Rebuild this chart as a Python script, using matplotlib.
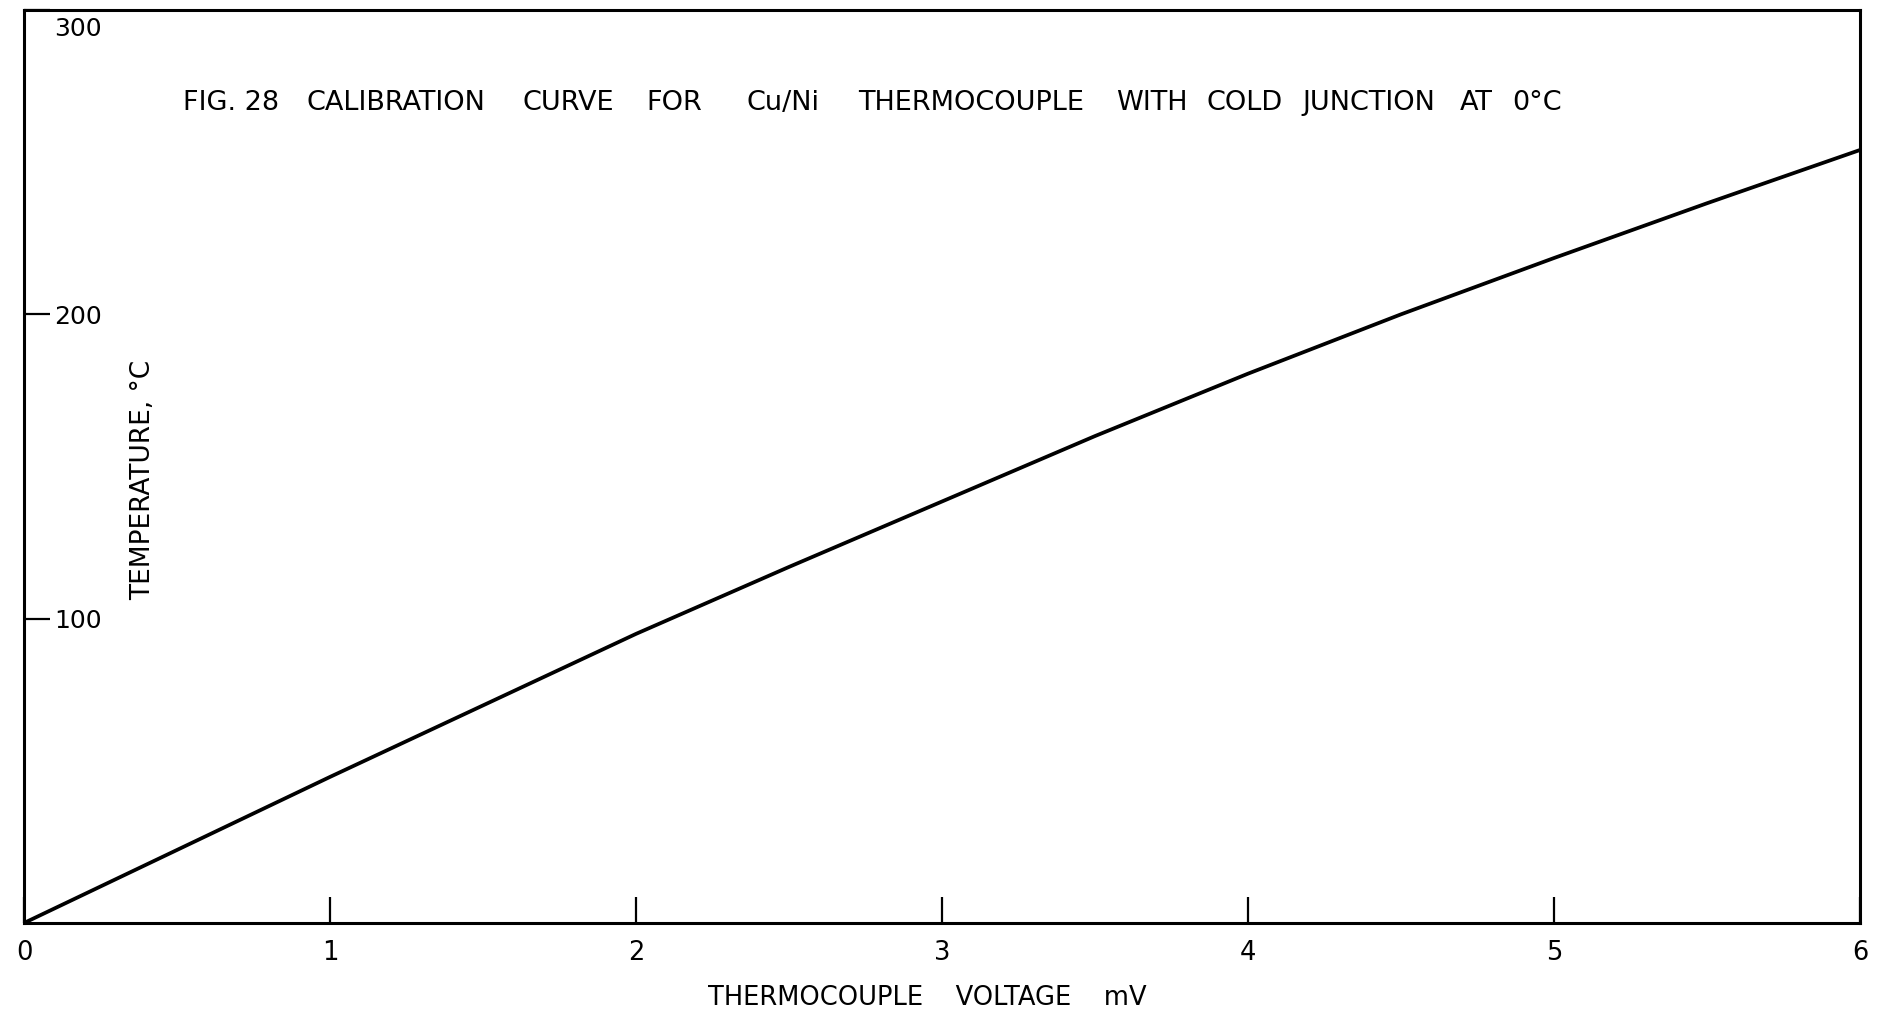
import matplotlib
matplotlib.use("Agg")
import matplotlib.pyplot as plt
from matplotlib.transforms import ScaledTranslation

# Data
voltage_mv = [0.0, 0.5, 1.0, 1.5, 2.0, 2.5, 3.0, 3.5, 4.0, 4.5, 5.0, 5.5, 6.0]
temperature_c = [0.0, 24.0, 48.0, 71.5, 95.0, 117.0, 138.5, 160.0, 180.5, 200.0, 218.5, 236.5, 254.0]

x_ticks = [0, 1, 2, 3, 4, 5, 6]
x_tick_labels = ["0", "1", "2", "3", "4", "5", "6"]
y_ticks = [100, 200, 300]
y_tick_labels = ["100", "200", "300"]

title_words = ["FIG. 28", "CALIBRATION", "CURVE", "FOR", "Cu/Ni", "THERMOCOUPLE",
               "WITH", "COLD", "JUNCTION", "AT", "0°C"]
title_word_px = [183, 307, 522, 646, 746, 858, 1116, 1207, 1302, 1460, 1512]

W, H = 1878, 1018
fig = plt.figure(figsize=(W / 100, H / 100), dpi=100)
plt.rcParams['font.family'] = ['DejaVu Sans']

ax = fig.add_axes([24 / W, 1 - 923 / H, (1860 - 24) / W, (923 - 10) / H])
ax.plot(voltage_mv, temperature_c, color="black", linewidth=2.7, solid_capstyle="round",
        solid_joinstyle="round")

ax.set_xlim(0, 6)
ax.set_ylim(0, 300)

for s in ax.spines.values():
    s.set_linewidth(2.2)
    s.set_color("black")

ax.set_xticks(x_ticks)
ax.set_xticklabels(x_tick_labels, fontsize=18.5)
ax.set_yticks(y_ticks)
ax.set_yticklabels(y_tick_labels, fontsize=18)

ax.tick_params(axis="x", direction="in", length=18.5, width=1.6, pad=12, colors="black")
ax.tick_params(axis="y", direction="in", length=18.5, width=1.6, pad=-21.5, colors="black")
for lab in ax.get_yticklabels():
    lab.set_horizontalalignment("left")
top_lab = ax.yaxis.get_major_ticks()[-1].label1
top_lab.set_verticalalignment("top")
top_lab.set_transform(top_lab.get_transform() + ScaledTranslation(0, -5 / 72, fig.dpi_scale_trans))

ax.set_xlabel("THERMOCOUPLE    VOLTAGE    mV", fontsize=18.5)
ax.xaxis.set_label_coords(0.492, -0.082)
ax.set_ylabel("TEMPERATURE, °C", fontsize=19)
ax.yaxis.set_label_coords(0.065, 0.485)
ax.yaxis.label.set_verticalalignment("center")
ax.xaxis.label.set_verticalalignment("center")

for word, px in zip(title_words, title_word_px):
    fig.text(px / W, 1 - 103 / H, word, fontsize=19.5, ha="left", va="center")

fig.savefig("out.png", dpi=100, facecolor="white")
